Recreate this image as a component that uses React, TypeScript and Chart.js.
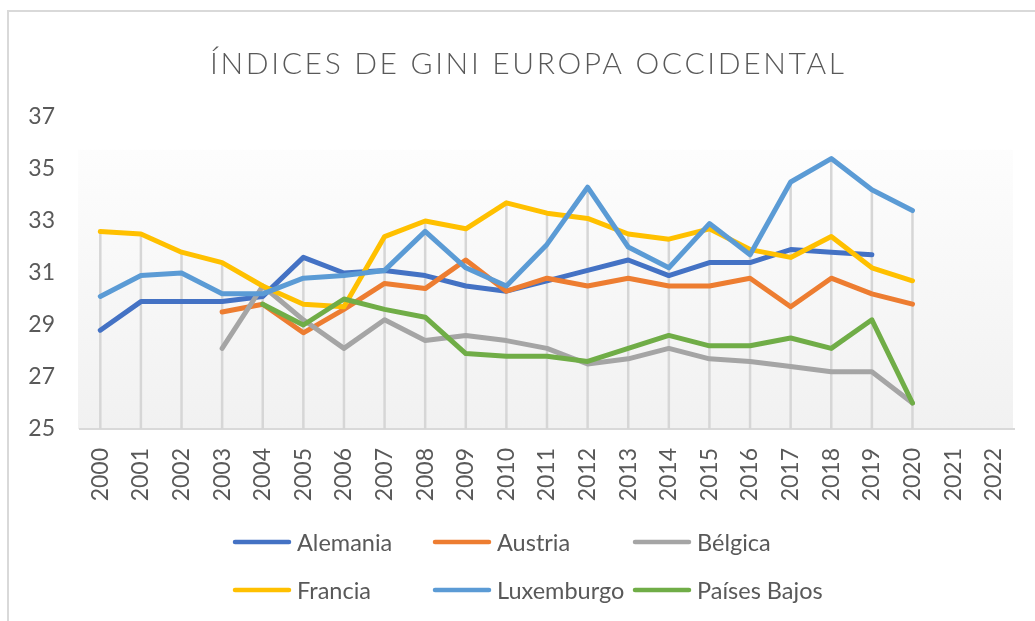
import React, { useEffect, useRef } from "react";
import { Chart, registerables } from "chart.js";

Chart.register(...registerables);

const years = [
  "2000", "2001", "2002", "2003", "2004", "2005", "2006", "2007", "2008", "2009", "2010",
  "2011", "2012", "2013", "2014", "2015", "2016", "2017", "2018", "2019", "2020", "2021", "2022",
];

const alemania = [28.8, 29.9, 29.9, 29.9, 30.1, 31.6, 31.0, 31.1, 30.9, 30.5, 30.3, 30.7, 31.1, 31.5, 30.9, 31.4, 31.4, 31.9, 31.8, 31.7, null, null, null];
const austria = [null, null, null, 29.5, 29.8, 28.7, 29.6, 30.6, 30.4, 31.5, 30.3, 30.8, 30.5, 30.8, 30.5, 30.5, 30.8, 29.7, 30.8, 30.2, 29.8, null, null];
const belgica = [null, null, null, 28.1, 30.5, 29.2, 28.1, 29.2, 28.4, 28.6, 28.4, 28.1, 27.5, 27.7, 28.1, 27.7, 27.6, 27.4, 27.2, 27.2, 26.0, null, null];
const francia = [32.6, 32.5, 31.8, 31.4, 30.5, 29.8, 29.7, 32.4, 33.0, 32.7, 33.7, 33.3, 33.1, 32.5, 32.3, 32.7, 31.9, 31.6, 32.4, 31.2, 30.7, null, null];
const luxemburgo = [30.1, 30.9, 31.0, 30.2, 30.2, 30.8, 30.9, 31.1, 32.6, 31.2, 30.5, 32.1, 34.3, 32.0, 31.2, 32.9, 31.7, 34.5, 35.4, 34.2, 33.4, null, null];
const paisesBajos = [null, null, null, null, 29.8, 29.0, 30.0, 29.6, 29.3, 27.9, 27.8, 27.8, 27.6, 28.1, 28.6, 28.2, 28.2, 28.5, 28.1, 29.2, 26.0, null, null];

const seriesNames = ["Alemania", "Austria", "Bélgica", "Francia", "Luxemburgo", "Países Bajos"];
const seriesValues = [alemania, austria, belgica, francia, luxemburgo, paisesBajos];
const seriesColors = ["#4472C4", "#ED7D31", "#A5A5A5", "#FFC000", "#5B9BD5", "#70AD47"];

const titleText = "ÍNDICES DE GINI EUROPA OCCIDENTAL";
const yMin = 25;
const yMax = 37;
const yStep = 2;

const FONT = "Lato, 'Open Sans', sans-serif";
const TEXT_COLOR = "#595959";
const FRAME_COLOR = "#d9d9d9";

const backgroundPlugin = {
  id: "bgFrame",
  beforeDraw(chart: any) {
    const { ctx, width, height, chartArea } = chart;
    ctx.save();
    ctx.fillStyle = "#ffffff";
    ctx.fillRect(0, 0, width, height);
    const h = chartArea.bottom - chartArea.top;
    const gTop = chartArea.top + h * 0.105;
    const grad = ctx.createLinearGradient(0, gTop, 0, chartArea.bottom);
    grad.addColorStop(0, "#fdfdfd");
    grad.addColorStop(1, "#f1f1f1");
    ctx.fillStyle = grad;
    ctx.fillRect(chartArea.left - 2, gTop, chartArea.right - chartArea.left + 1, chartArea.bottom - gTop);
    ctx.fillStyle = FRAME_COLOR;
    ctx.fillRect(0, 0, width, 2);
    ctx.fillRect(0, 0, 2, height);
    ctx.restore();
  },
};

const dropLinesPlugin = {
  id: "dropLines",
  beforeDatasetsDraw(chart: any) {
    const { ctx, chartArea, scales } = chart;
    const xs = scales.x;
    const ys = scales.y;
    ctx.save();
    ctx.strokeStyle = "#d6d6d6";
    ctx.lineWidth = 2.5;
    for (let i = 0; i < years.length; i++) {
      let max: number | null = null;
      for (const s of seriesValues) {
        const v = s[i];
        if (v !== null && v !== undefined && (max === null || v > max)) max = v;
      }
      if (max === null) continue;
      const x = xs.getPixelForValue(i);
      ctx.beginPath();
      ctx.moveTo(x, ys.getPixelForValue(max));
      ctx.lineTo(x, chartArea.bottom);
      ctx.stroke();
    }
    ctx.restore();
  },
};

const titleLegendPlugin = {
  id: "titleLegend",
  afterDraw(chart: any) {
    const { ctx, width } = chart;
    ctx.save();
    // Title
    ctx.fillStyle = TEXT_COLOR;
    ctx.font = `300 30px ${FONT}`;
    (ctx as any).letterSpacing = "0px";
    const raw = ctx.measureText(titleText).width;
    const targetW = 634;
    const spacing = Math.max(0, (targetW - raw) / (titleText.length - 1));
    (ctx as any).letterSpacing = `${spacing}px`;
    ctx.textAlign = "center";
    ctx.textBaseline = "alphabetic";
    ctx.fillText(titleText, width / 2 + spacing / 2, 64);
    (ctx as any).letterSpacing = "0px";

    // Legend (3 columns x 2 rows)
    const colW = 200;
    const startX = width / 2 - 294;
    const rowY = [532, 580];
    const lineLen = 58;
    ctx.font = `23.5px ${FONT}`;
    ctx.textAlign = "left";
    ctx.lineCap = "round";
    chart.data.datasets.forEach((ds: any, i: number) => {
      const col = i % 3;
      const row = Math.floor(i / 3);
      const x = startX + col * colW;
      const y = rowY[row];
      ctx.strokeStyle = ds.borderColor;
      ctx.lineWidth = 4.5;
      ctx.beginPath();
      ctx.moveTo(x + 2, y);
      ctx.lineTo(x + lineLen - 2, y);
      ctx.stroke();
      ctx.fillStyle = TEXT_COLOR;
      ctx.fillText(ds.label, x + lineLen + 6, y + 9);
    });
    ctx.restore();
  },
};

export default function App() {
  const canvasRef = useRef<HTMLCanvasElement | null>(null);

  useEffect(() => {
    if (!canvasRef.current) return;
    const chart = new Chart(canvasRef.current, {
      type: "line",
      data: {
        labels: years,
        datasets: seriesNames.map((name, i) => ({
          label: name,
          data: seriesValues[i],
          borderColor: seriesColors[i],
          backgroundColor: seriesColors[i],
          borderWidth: 5,
          pointRadius: 0,
          pointHoverRadius: 0,
          tension: 0,
          fill: false,
          spanGaps: false,
          borderCapStyle: "round",
          borderJoinStyle: "round",
          order: seriesNames.length - 1 - i,
        })),
      },
      options: {
        responsive: false,
        animation: false,
        devicePixelRatio: 1,
        layout: { padding: { top: 107, left: 21, right: 33, bottom: 120 } },
        plugins: {
          legend: { display: false },
          title: { display: false },
          tooltip: { enabled: false },
        },
        scales: {
          x: {
            type: "category",
            offset: true,
            grid: { display: false, drawTicks: false },
            border: { display: true, color: FRAME_COLOR, width: 2 },
            ticks: {
              autoSkip: false,
              maxRotation: 90,
              minRotation: 90,
              padding: 19,
              color: TEXT_COLOR,
              font: { family: FONT, size: 23 },
            },
            afterFit(scale: any) {
              scale.height = 72;
              scale.paddingLeft = 0;
              scale.paddingRight = 0;
            },
          },
          y: {
            min: yMin,
            max: yMax,
            grid: { display: false, drawTicks: false },
            border: { display: false },
            ticks: {
              stepSize: yStep,
              padding: 25,
              color: TEXT_COLOR,
              font: { family: FONT, size: 23 },
            },
            afterFit(scale: any) {
              scale.width = 52;
              scale.paddingTop = 0;
              scale.paddingBottom = 0;
            },
          },
        },
      },
      plugins: [backgroundPlugin, dropLinesPlugin, titleLegendPlugin],
    });
    return () => chart.destroy();
  }, []);

  return (
    <div
      style={{
        position: "fixed",
        left: 0,
        top: 0,
        width: 1035,
        height: 621,
        overflow: "hidden",
        background: "#ffffff",
      }}
    >
      <div style={{ position: "absolute", left: 7, top: 10, width: 1040, height: 611 }}>
        <canvas ref={canvasRef} width={1040} height={611} style={{ display: "block" }} />
      </div>
    </div>
  );
}
